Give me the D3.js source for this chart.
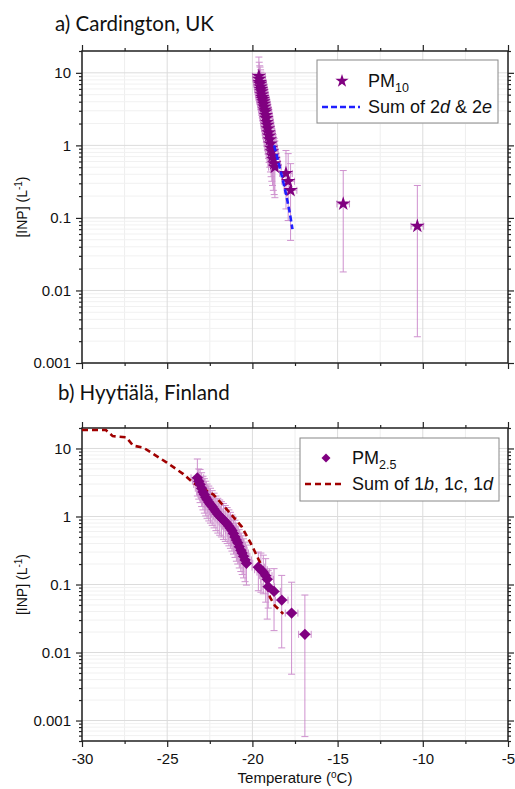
<!DOCTYPE html>
<html>
<head>
<meta charset="utf-8">
<script src="https://cdn.jsdelivr.net/npm/d3@7"></script>
<style>
  body { margin: 0; background: #fff; }
  svg { display: block; }
  text { font-family: "Liberation Sans", Arial, sans-serif; }
</style>
</head>
<body>
<div id="graph"></div>
<script>
// ---- data ----
// panel a : Cardington, PM10
var tA    = [-19.62,-19.60,-19.57,-19.55,-19.52,-19.50,-19.47,-19.45,-19.42,-19.39,-19.36,-19.33,-19.30,-19.27,-19.24,-19.21,-19.18,-19.15,-19.12,-19.09,-19.05,-19.02,-18.98,-18.94,-18.90,-18.86,-18.82,-18.77,-18.72,-18.68,-18.03,-17.90,-17.76,-14.67,-10.32];
var inpA  = [9.0,8.2,7.4,7.0,6.4,5.9,5.5,5.0,4.6,4.3,4.0,3.7,3.4,3.1,2.9,2.6,2.35,2.1,1.9,1.7,1.5,1.35,1.2,1.05,0.92,0.82,0.72,0.64,0.56,0.50,0.41,0.32,0.24,0.156,0.077];
var hiA   = [16.5,14.0,12.5,12.0,11.0,10.2,9.5,8.8,8.0,7.5,7.0,6.5,6.0,5.5,5.2,4.7,4.3,3.9,3.5,3.2,2.9,2.6,2.4,2.1,1.9,1.7,1.55,1.4,1.25,1.15,0.85,0.77,0.56,0.45,0.28];
var loA   = [5.0,4.5,4.0,3.8,3.4,3.1,2.9,2.6,2.4,2.2,2.0,1.85,1.7,1.55,1.4,1.25,1.1,0.98,0.86,0.76,0.66,0.58,0.5,0.43,0.37,0.32,0.28,0.24,0.21,0.19,0.133,0.092,0.049,0.018,0.0023];
// sum of 2d & 2e
var sumAT = [-18.72,-18.50,-18.25,-18.00,-17.80,-17.65];
var sumAV = [1.0,0.62,0.36,0.20,0.115,0.07];

// panel b : Hyytiala, PM2.5
var tB    = [-23.23,-23.15,-23.07,-22.98,-22.90,-22.82,-22.74,-22.66,-22.56,-22.46,-22.36,-22.25,-22.14,-22.03,-21.92,-21.82,-21.70,-21.59,-21.48,-21.38,-21.29,-21.20,-21.11,-21.02,-20.94,-20.86,-20.77,-20.68,-20.60,-20.52,-20.43,-20.35,-19.65,-19.50,-19.36,-19.22,-19.13,-19.07,-18.73,-18.28,-17.70,-16.92];
var inpB  = [3.7,3.3,2.96,2.6,2.3,2.1,1.92,1.77,1.62,1.50,1.40,1.28,1.17,1.08,1.01,0.95,0.89,0.83,0.78,0.72,0.67,0.62,0.56,0.50,0.45,0.41,0.36,0.32,0.29,0.26,0.23,0.205,0.18,0.165,0.152,0.135,0.119,0.093,0.079,0.059,0.038,0.0185];
var hiB   = [7.0,5.0,4.9,4.4,3.9,3.6,3.3,3.0,2.8,2.6,2.4,2.2,2.0,1.85,1.75,1.65,1.55,1.45,1.35,1.25,1.15,1.05,0.97,0.88,0.8,0.72,0.64,0.57,0.52,0.47,0.42,0.38,0.30,0.29,0.27,0.24,0.17,0.16,0.171,0.136,0.108,0.070];
var loB   = [2.0,1.8,1.6,1.4,1.25,1.12,1.02,0.94,0.86,0.80,0.74,0.68,0.62,0.57,0.53,0.50,0.46,0.43,0.40,0.37,0.34,0.31,0.28,0.25,0.22,0.20,0.175,0.155,0.14,0.125,0.11,0.098,0.081,0.077,0.073,0.055,0.031,0.045,0.021,0.0117,0.0048,0.00058];
// sum of 1b, 1c, 1d
var sumBT = [-30,-28.6,-28.2,-27.4,-27.0,-26.4,-25.02,-24.05,-23.46,-22.29,-21.31,-20.63,-20.04,-19.55,-19.26,-18.97,-18.68,-18.19];
var sumBV = [18.7,18.7,15.2,14.6,11.0,10.3,6.2,4.2,3.1,2.1,1.12,0.71,0.38,0.21,0.144,0.065,0.049,0.037];

var tErr = 0.37;   // horizontal error, degC

var xTicks = [-30,-25,-20,-15,-10,-5];
var xMinor = [-27.5,-22.5,-17.5,-12.5,-7.5];
var yTicksA = [0.001,0.01,0.1,1,10];
var yTicksB = [0.001,0.01,0.1,1,10];

// ---- layout ----
var W = 515, H = 789;
var FONT = "'Liberation Sans', Arial, sans-serif";
var svg = d3.select("#graph").append("svg").attr("width", W).attr("height", H);

var x = d3.scaleLinear().domain([-30, -5]).range([82, 508]);

function minorLogs(dom) {
  var out = [];
  for (var e = -5; e <= 2; e++) {
    for (var m = 2; m <= 9; m++) {
      var v = m * Math.pow(10, e);
      if (v >= dom[0] * 0.999 && v <= dom[1] * 1.001) out.push(v);
    }
  }
  return out;
}

function panel(opt) {
  var y = d3.scaleLog().domain(opt.ydom).range([opt.bottom, opt.top]);
  var g = svg.append("g");
  var minY = minorLogs(opt.ydom);

  // grid
  g.selectAll(".gmx").data(xMinor).enter().append("line")
    .attr("x1", x).attr("x2", x).attr("y1", opt.top).attr("y2", opt.bottom)
    .attr("stroke", "#eeeeee").attr("stroke-width", 1);
  g.selectAll(".gmy").data(minY).enter().append("line")
    .attr("x1", x(-30)).attr("x2", x(-5)).attr("y1", y).attr("y2", y)
    .attr("stroke", "#f1f1f1").attr("stroke-width", 1);
  g.selectAll(".gx").data(xTicks).enter().append("line")
    .attr("x1", x).attr("x2", x).attr("y1", opt.top).attr("y2", opt.bottom)
    .attr("stroke", "#dcdcdc").attr("stroke-width", 1);
  g.selectAll(".gy").data(opt.yticks).enter().append("line")
    .attr("x1", x(-30)).attr("x2", x(-5)).attr("y1", y).attr("y2", y)
    .attr("stroke", "#dcdcdc").attr("stroke-width", 1);

  // axes (ticks outward on all four sides)
  function ax(gen, tr, vals, size, labels) {
    var a = g.append("g").attr("transform", tr)
      .call(gen.tickValues(vals).tickSize(size).tickSizeOuter(0)
        .tickFormat(labels ? labels : ""));
    a.attr("font-family", FONT);
    a.select(".domain").remove();
    a.selectAll("line").attr("stroke", "#222").attr("stroke-width", 1.2);
    a.selectAll("text").attr("font-size", 15).attr("fill", "#111");
    return a;
  }
  var xb = opt.xlabels ? function(d) { return String(d); } : null;
  ax(d3.axisBottom(x), "translate(0," + opt.bottom + ")", xTicks, 6, xb).selectAll("text").attr("dy", "0.95em");
  ax(d3.axisBottom(x), "translate(0," + opt.bottom + ")", xMinor, 3, null);
  ax(d3.axisTop(x), "translate(0," + opt.top + ")", xTicks, 6, null);
  ax(d3.axisTop(x), "translate(0," + opt.top + ")", xMinor, 3, null);
  ax(d3.axisLeft(y), "translate(" + x(-30) + ",0)", opt.yticks, 6, function(d) { return d3.format("~g")(d); })
    .selectAll("text").attr("dx", "-2");
  ax(d3.axisLeft(y), "translate(" + x(-30) + ",0)", minY, 3, null);
  ax(d3.axisRight(y), "translate(" + x(-5) + ",0)", opt.yticks, 6, null);
  ax(d3.axisRight(y), "translate(" + x(-5) + ",0)", minY, 3, null);

  g.append("rect").attr("x", x(-30)).attr("y", opt.top)
    .attr("width", x(-5) - x(-30)).attr("height", opt.bottom - opt.top)
    .attr("fill", "none").attr("stroke", "#222").attr("stroke-width", 1.5);

  // title and y label
  g.append("text").attr("x", opt.titleX).attr("y", opt.titleY)
    .style("font-family", "Lato, 'Open Sans', sans-serif").attr("font-size", 20.5).attr("fill", "#111")
    .text(opt.title);
  var yl = g.append("text")
    .attr("transform", "translate(27," + ((opt.top + opt.bottom) / 2) + ") rotate(-90)")
    .attr("text-anchor", "middle").attr("font-size", 14).attr("fill", "#111");
  yl.append("tspan").text("[INP] (L");
  yl.append("tspan").attr("dy", -5).attr("font-size", 10).text("-1");
  yl.append("tspan").attr("dy", 5).text(")");

  var pts = opt.t.map(function(t, i) { return {t: t, v: opt.v[i], hi: opt.hi[i], lo: opt.lo[i]}; });
  var clip = "clip" + opt.id;
  svg.append("clipPath").attr("id", clip).append("rect")
    .attr("x", x(-30)).attr("y", opt.top).attr("width", x(-5) - x(-30)).attr("height", opt.bottom - opt.top);
  var pg = g.append("g").attr("clip-path", "url(#" + clip + ")");

  // error bars
  var eb = pg.append("g").attr("stroke", "#c77fc7").attr("stroke-width", 1).attr("fill", "none").attr("opacity", 0.85);
  pts.forEach(function(d) {
    var cx = x(d.t), cy = y(d.v);
    eb.append("line").attr("x1", cx).attr("x2", cx).attr("y1", y(d.hi)).attr("y2", y(d.lo));
    eb.append("line").attr("x1", cx - 3.5).attr("x2", cx + 3.5).attr("y1", y(d.hi)).attr("y2", y(d.hi));
    eb.append("line").attr("x1", cx - 3.5).attr("x2", cx + 3.5).attr("y1", y(d.lo)).attr("y2", y(d.lo));
    eb.append("line").attr("x1", x(d.t - tErr)).attr("x2", x(d.t + tErr)).attr("y1", cy).attr("y2", cy);
    eb.append("line").attr("x1", x(d.t - tErr)).attr("x2", x(d.t - tErr)).attr("y1", cy - 3.5).attr("y2", cy + 3.5);
    eb.append("line").attr("x1", x(d.t + tErr)).attr("x2", x(d.t + tErr)).attr("y1", cy - 3.5).attr("y2", cy + 3.5);
  });

  // sum curve
  var line = d3.line().x(function(d) { return x(d[0]); }).y(function(d) { return y(d[1]); });
  var sum = opt.sumT.map(function(t, i) { return [t, opt.sumV[i]]; });
  var drawSum = function() {
    pg.append("path").datum(sum).attr("d", line).attr("fill", "none")
      .attr("stroke", opt.sumColor).attr("stroke-width", 2.6).attr("stroke-dasharray", opt.dash);
  };
  if (opt.sumOnTop !== true) drawSum();

  // markers
  pg.selectAll(".m").data(pts).enter().append("path")
    .attr("transform", function(d) { return "translate(" + x(d.t) + "," + y(d.v) + ")" + (opt.diamond ? " rotate(45)" : ""); })
    .attr("d", d3.symbol().type(opt.diamond ? d3.symbolSquare : d3.symbolStar).size(opt.msize))
    .attr("fill", "#800080");
  if (opt.sumOnTop === true) drawSum();

  // legend
  var L = opt.legend;
  g.append("rect").attr("x", L.x).attr("y", L.y).attr("width", L.w).attr("height", L.h)
    .attr("fill", "#fff").attr("stroke", "#888").attr("stroke-width", 1);
  g.append("path").attr("transform", "translate(" + L.mx + "," + L.my + ")" + (opt.diamond ? " rotate(45)" : ""))
    .attr("d", d3.symbol().type(opt.diamond ? d3.symbolSquare : d3.symbolStar).size(opt.diamond ? 40 : 55))
    .attr("fill", "#800080");
  var t1 = g.append("text").attr("x", L.tx).attr("y", L.my + 6).attr("font-size", 18).attr("fill", "#111");
  t1.append("tspan").text("PM");
  t1.append("tspan").attr("dy", 5).attr("font-size", 12.5).text(L.sub);
  g.append("line").attr("x1", L.lx1).attr("x2", L.lx2).attr("y1", L.ly).attr("y2", L.ly)
    .attr("stroke", opt.sumColor).attr("stroke-width", 2.6).attr("stroke-dasharray", opt.dash);
  var t2 = g.append("text").attr("x", L.tx).attr("y", L.ly + 6).attr("font-size", 18).attr("fill", "#111");
  L.parts.forEach(function(p) {
    t2.append("tspan").attr("font-style", p[1] ? "italic" : "normal").text(p[0]);
  });
}

panel({
  id: "a", top: 51, bottom: 363, ydom: [0.001, 20], yticks: yTicksA, xlabels: false,
  title: "a) Cardington, UK", titleX: 55, titleY: 31,
  t: tA, v: inpA, hi: hiA, lo: loA, diamond: false, msize: 65,
  sumT: sumAT, sumV: sumAV, sumColor: "#1f1fff", dash: "6,3", sumOnTop: true,
  legend: {x: 317, y: 60, w: 181, h: 63, mx: 342, my: 81, tx: 368, lx1: 322, lx2: 360, ly: 107, sub: "10",
           parts: [["Sum of 2", false], ["d", true], [" & 2", false], ["e", true]]}
});

panel({
  id: "b", top: 428, bottom: 741, ydom: [0.0005, 20], yticks: yTicksB, xlabels: true,
  title: "b) Hyytiälä, Finland", titleX: 58, titleY: 400,
  t: tB, v: inpB, hi: hiB, lo: loB, diamond: true, msize: 64,
  sumT: sumBT, sumV: sumBV, sumColor: "#a00000", dash: "6,4", sumOnTop: false,
  legend: {x: 300, y: 438, w: 199, h: 63, mx: 326, my: 458, tx: 352, lx1: 305, lx2: 343, ly: 484, sub: "2.5",
           parts: [["Sum of 1", false], ["b", true], [", 1", false], ["c", true], [", 1", false], ["d", true]]}
});

// x axis title
var xt = svg.append("text").attr("x", x(-17.5)).attr("y", 783).attr("text-anchor", "middle")
  .attr("font-size", 15).attr("fill", "#111");
xt.append("tspan").text("Temperature (");
xt.append("tspan").attr("dy", -5).attr("font-size", 10).text("o");
xt.append("tspan").attr("dy", 5).text("C)");
</script>
</body>
</html>
